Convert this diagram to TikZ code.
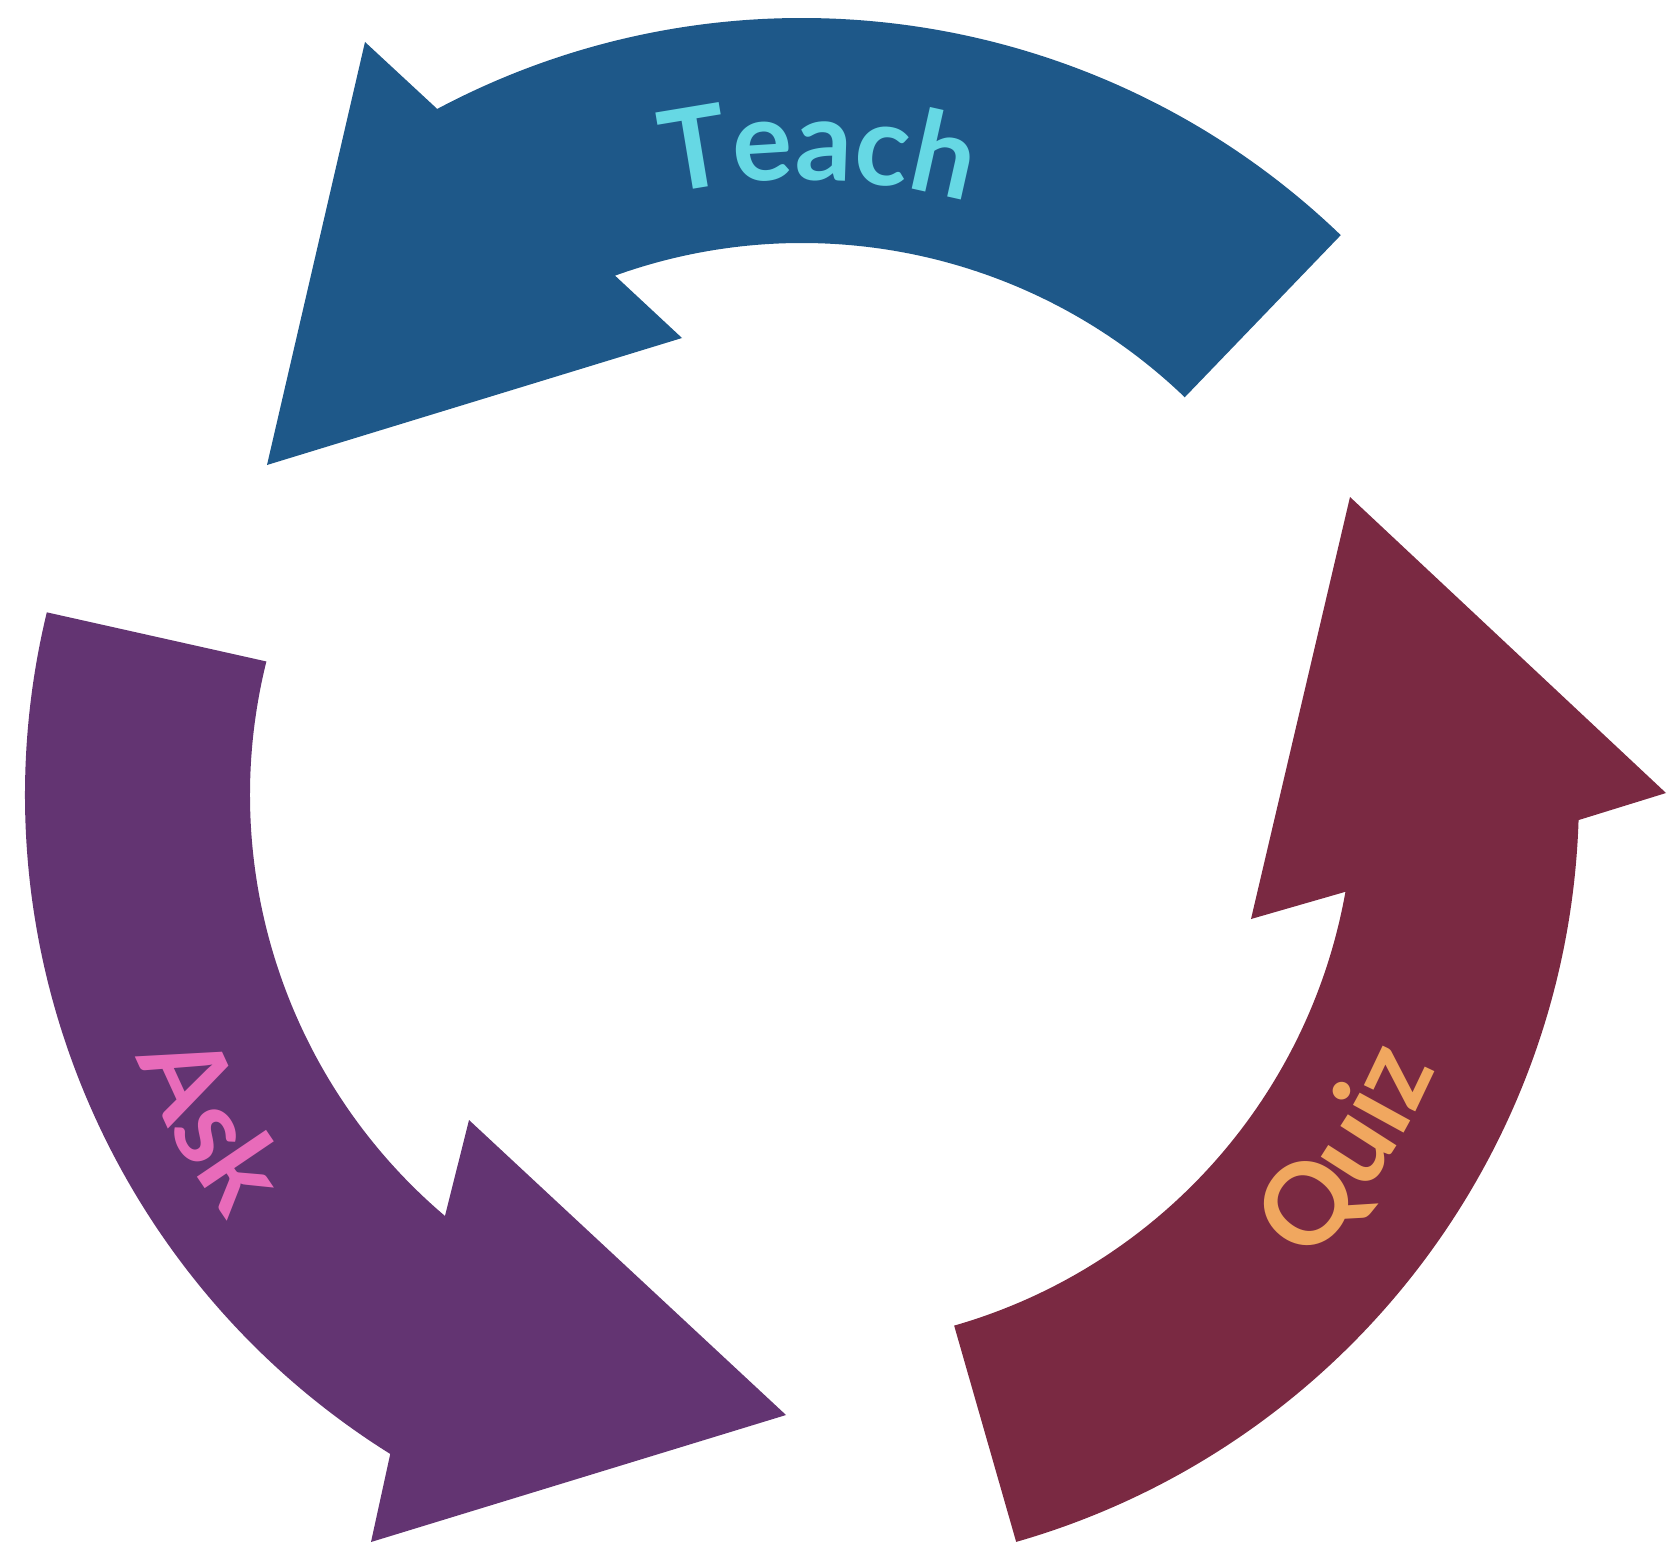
\documentclass[tikz,border=0pt]{standalone}
\usepackage{fontspec}
\setmainfont{Lato}
\usetikzlibrary{decorations.text}
\definecolor{teachc}{HTML}{1E5889}
\definecolor{teacht}{HTML}{66D8E4}
\definecolor{quizc}{HTML}{7A2942}
\definecolor{quizt}{HTML}{F0A75F}
\definecolor{askc}{HTML}{633472}
\definecolor{askt}{HTML}{E86BBA}
\newcommand\lblfont{\fontsize{32}{40}\selectfont\bfseries}
\begin{document}
\begin{tikzpicture}
\useasboundingbox (0,0) rectangle (16.77,-15.62);
\begin{scope}[shift={(8.02,-7.95)}]
\fill[teachc] (46.1:7.77) arc[start angle=46.1,end angle=118,radius=7.77]
  -- (-4.37,7.53) -- (-5.35,3.30) -- (-1.20,4.57) -- (109.8:5.52)
  arc[start angle=109.8,end angle=46.1,radius=5.52] -- cycle;
\fill[quizc] (-1.85:7.77) arc[start angle=-1.85,end angle=-74,radius=7.77]
  -- (-74:5.52) arc[start angle=-74,end angle=-10.1,radius=5.52]
  -- (4.49,-1.24) -- (5.48,2.98) -- (8.64,0.02) -- cycle;
\fill[askc] (166.4:7.77) arc[start angle=166.4,end angle=238,radius=7.77]
  -- (-4.31,-7.47) -- (-0.16,-6.20) -- (-3.33,-3.25) -- (229.7:5.52)
  arc[start angle=229.7,end angle=166,radius=5.52] -- cycle;
\path[decorate,decoration={text along path,text align=center,
  text color=teacht,text={|\lblfont|Teach}}]
  (108:6.15) arc[start angle=108,end angle=69,radius=6.15];
\path[decorate,decoration={text along path,text align=center,
  text color=quizt,text={|\lblfont|Quiz}}]
  (-50:6.9) arc[start angle=-50,end angle=-16,radius=6.9];
\path[decorate,decoration={text along path,text align=center,
  text color=askt,text={|\lblfont|Ask}}]
  (193:7.15) arc[start angle=193,end angle=225,radius=7.15];
\end{scope}
\end{tikzpicture}
\end{document}
